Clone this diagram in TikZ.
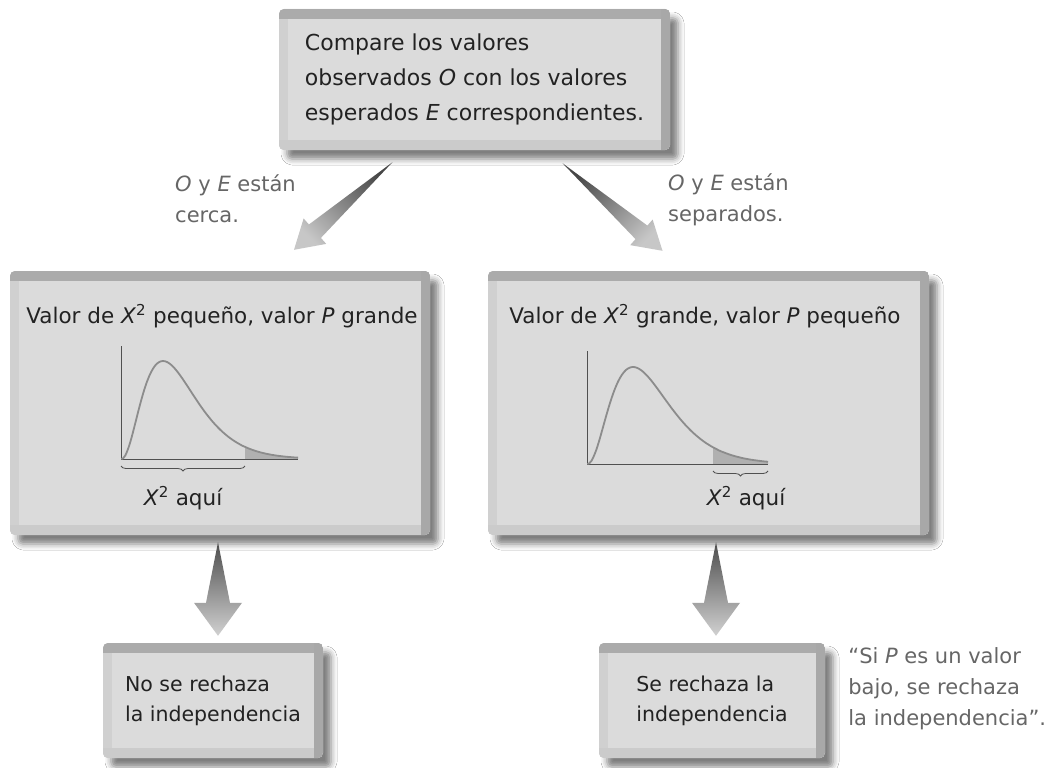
\documentclass[tikz,border=0pt]{standalone}
\usepackage{fontspec}
\setmainfont{DejaVu Sans}
\usetikzlibrary{positioning, calc, shadows.blur, decorations.pathreplacing}

\definecolor{boxface}{HTML}{DBDBDB}
\definecolor{boxtop}{HTML}{ABABAB}
\definecolor{boxright}{HTML}{A8A8A8}
\definecolor{boxleft}{HTML}{D0D0D0}
\definecolor{boxbottom}{HTML}{CBCBCB}
\definecolor{inktext}{HTML}{222222}
\definecolor{notegray}{HTML}{666666}
\definecolor{curvegray}{HTML}{8C8C8C}
\definecolor{axisgray}{HTML}{505050}
\definecolor{tailgray}{HTML}{B0B0B0}

\tikzset{
  bevelbox/.style={rounded corners=5pt, fill=boxface, inner sep=0pt, text=inktext,
    blur shadow={shadow xshift=8pt, shadow yshift=-9pt, shadow blur radius=6pt, shadow opacity=50},
    path picture={
      \fill[boxleft, sharp corners] (path picture bounding box.south west) rectangle ([xshift=9pt]path picture bounding box.north west);
      \fill[boxbottom, sharp corners] (path picture bounding box.south west) rectangle ([yshift=10pt]path picture bounding box.south east);
      \fill[boxtop, sharp corners] (path picture bounding box.north west) rectangle ([yshift=-10pt]path picture bounding box.north east);
      \fill[boxright, sharp corners] ([xshift=-9pt]path picture bounding box.north east) rectangle (path picture bounding box.south east);
    }},
  boxtext/.style={align=left, font=\fontsize{22}{35}\selectfont},
  titletext/.style={font=\fontsize{21.5}{35}\selectfont},
  endtext/.style={align=left, font=\fontsize{20.5}{30}\selectfont},
  note/.style={text=notegray, align=left, inner sep=0pt, font=\fontsize{21}{31}\selectfont},
  taper/.style n args={3}{to path={
    -- ($(\tikztotarget)!#1pt!(\tikztostart)!#3pt!90:(\tikztotarget)$)
    -- ($(\tikztotarget)!#1pt!(\tikztostart)!#2pt!90:(\tikztotarget)$)
    -- (\tikztotarget)
    -- ($(\tikztotarget)!#1pt!(\tikztostart)!#2pt!-90:(\tikztotarget)$)
    -- ($(\tikztotarget)!#1pt!(\tikztostart)!#3pt!-90:(\tikztotarget)$)
    -- cycle}},
  downfill/.style={top color=black!70, bottom color=black!18},
  slantfill/.style={top color=black!72, middle color=black!3, bottom color=black!22}
}

\begin{document}
\begin{tikzpicture}[x=1pt, y=-1pt]
  \fill[white] (0,0) rectangle (1060,768);
  \useasboundingbox (0,0) rectangle (1060,768);

  % boxes
  \node[bevelbox, boxtext, minimum width=391pt, minimum height=141pt] (top) at (474.5,79.5)
    {Compare los valores\\observados \textit{O} con los valores\\esperados \textit{E} correspondientes.};
  \node[bevelbox, minimum width=420pt, minimum height=264pt] (midL) at (220,403) {};
  \node[bevelbox, minimum width=441pt, minimum height=264pt] (midR) at (708.5,403) {};
  \node[bevelbox, endtext, minimum width=220pt, minimum height=115pt] (botL) at (213,700.5)
    {No se rechaza\\la independencia};
  \node[bevelbox, endtext, minimum width=226pt, minimum height=115pt] (botR) at (712,700.5)
    {Se rechaza la\\independencia};

  % titles in the middle boxes
  \node[titletext, text=inktext, anchor=base] (titleL) at (222,323)
    {Valor de \textit{X}\textsuperscript{2} pequeño, valor \textit{P} grande};
  \node[titletext, text=inktext, anchor=base] (titleR) at (705,323)
    {Valor de \textit{X}\textsuperscript{2} grande, valor \textit{P} pequeño};

  % small curve, left
  \begin{scope}[shift={(121,459)}]
    \fill[tailgray] (124,0) -- plot[domain=124:177, samples=20] (\x,{-98*pow(\x/42,2.4)*exp(2.4*(1-\x/42))}) -- (177,0) -- cycle;
    \draw[axisgray, line width=1pt] (0,-113) -- (0,0) -- (177,0);
    \draw[curvegray, line width=1.8pt] plot[domain=0.3:177, samples=90, smooth] (\x,{-98*pow(\x/42,2.4)*exp(2.4*(1-\x/42))});
    \draw[axisgray, line width=0.8pt, decorate, decoration={brace, mirror, amplitude=5pt}] (0,7) -- (124,7);
  \end{scope}
  \node[titletext, text=inktext, anchor=base] (hereL) at (183,505) {\textit{X}\textsuperscript{2} aquí};

  % small curve, right
  \begin{scope}[shift={(587,464)}]
    \fill[tailgray] (126,0) -- plot[domain=126:181, samples=20] (\x,{-97*pow(\x/46,2.4)*exp(2.4*(1-\x/46))}) -- (181,0) -- cycle;
    \draw[axisgray, line width=1pt] (0,-113) -- (0,0) -- (181,0);
    \draw[curvegray, line width=1.8pt] plot[domain=0.3:181, samples=90, smooth] (\x,{-97*pow(\x/46,2.4)*exp(2.4*(1-\x/46))});
    \draw[axisgray, line width=0.8pt, decorate, decoration={brace, mirror, amplitude=5pt}] (126,7) -- (181,7);
  \end{scope}
  \node[titletext, text=inktext, anchor=base] (hereR) at (746,505) {\textit{X}\textsuperscript{2} aquí};

  % arrows
  \coordinate (cl0) at ($(top.south)+(-82,12)$);
  \coordinate (cl1) at ($(midL.north)+(74,-21)$);
  \coordinate (cr0) at ($(top.south)+(88,13)$);
  \coordinate (cr1) at ($(midR.north)+(-46,-20)$);
  \shade[slantfill, shading angle=-45] (cl0) to[taper={28}{17}{9}] (cl1);
  \shade[slantfill, shading angle=45] (cr0) to[taper={28}{17}{9}] (cr1);

  \coordinate (dl0) at ($(midL.south)+(-2,7)$);
  \coordinate (dl1) at ($(midL.south |- botL.north)+(-2,-7)$);
  \coordinate (dr0) at ($(botR.north |- midR.south)+(4,7)$);
  \coordinate (dr1) at ($(botR.north)+(4,-7)$);
  \shade[downfill] (dl0) to[taper={33}{24}{12}] (dl1);
  \shade[downfill] (dr0) to[taper={33}{24}{12}] (dr1);

  % notes
  \node[note, anchor=base west] (nearL) at (175,222) {\textit{O} y \textit{E} están\\cerca.};
  \node[note, anchor=base west] (farR) at (668,221) {\textit{O} y \textit{E} están\\separados.};
  \node[note, right=23pt of botR, yshift=12pt] (quote)
    {“Si \textit{P} es un valor\\bajo, se rechaza\\la independencia”.};
\end{tikzpicture}
\end{document}
